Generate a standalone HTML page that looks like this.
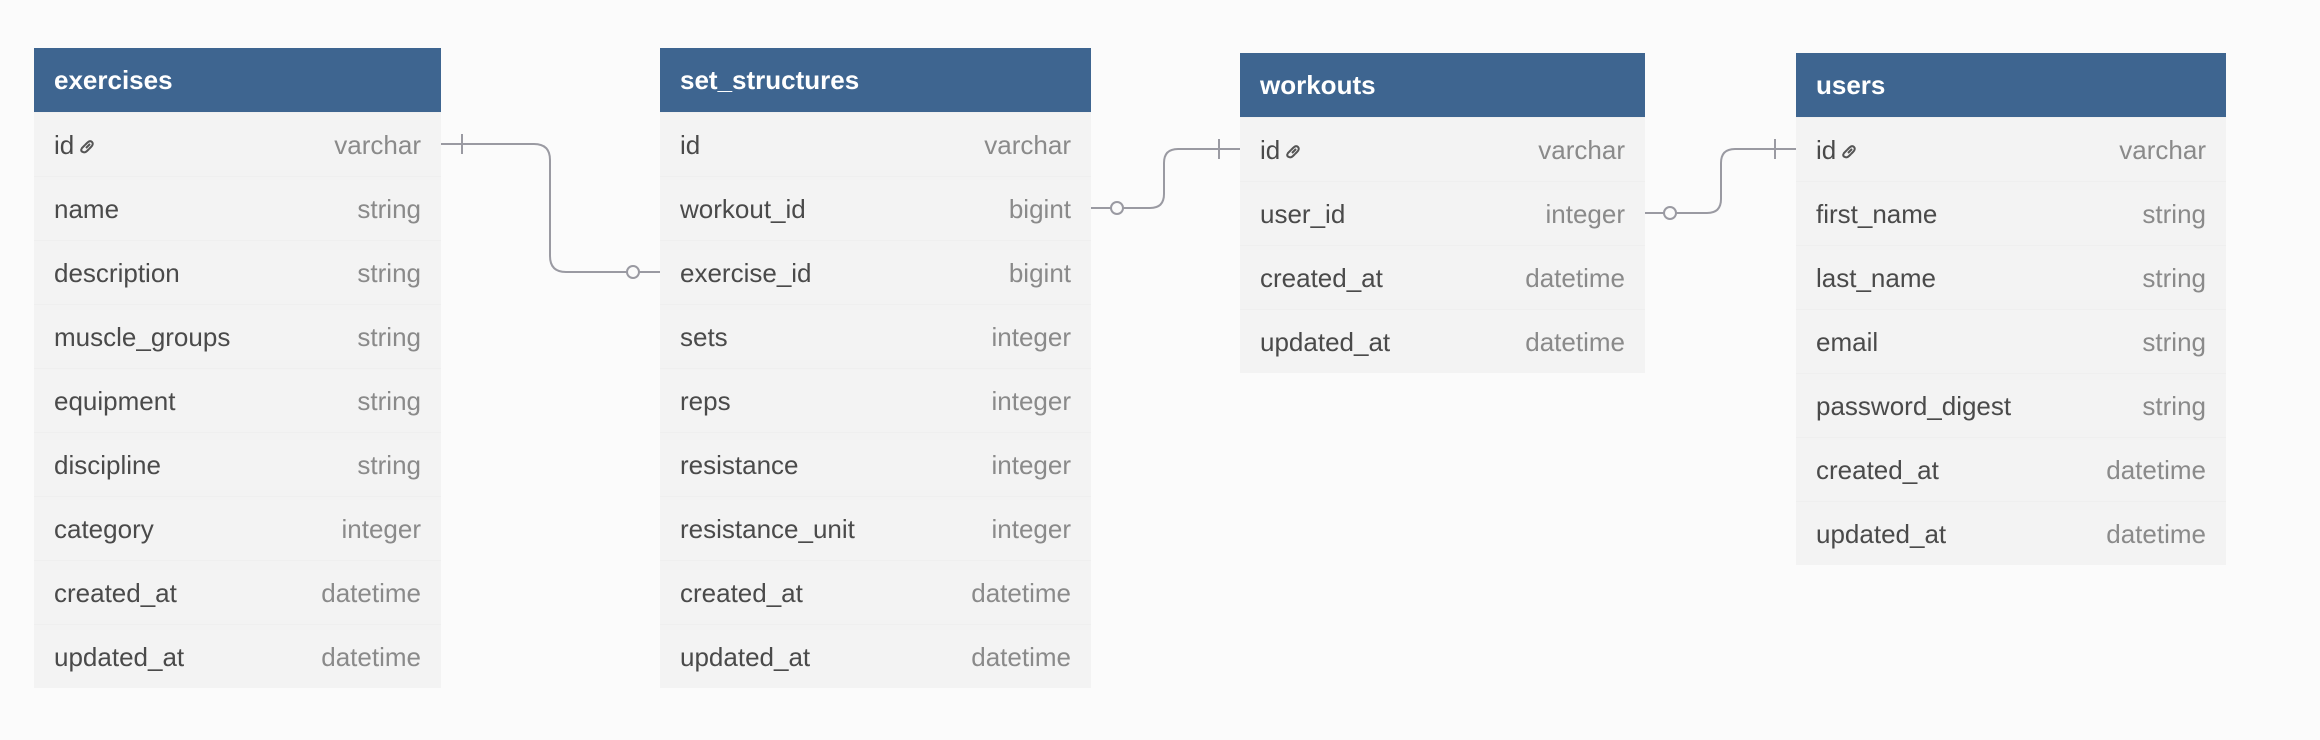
<!DOCTYPE html>
<html><head><style>
body{margin:0;width:2320px;height:740px;background:#fbfbfb;font-family:"Liberation Sans",sans-serif;position:relative;overflow:hidden}
.t{position:absolute;background:#f3f3f3}
.h{height:64px;background:#3e6590;color:#fff;font-weight:bold;font-size:26px;line-height:64px;padding-left:20px}
.r{height:64px;line-height:64px;font-size:26px;color:#4a4a4a;padding:0 20px;position:relative;box-sizing:border-box;border-top:1px solid #efefef}
.r span{position:absolute;right:20px;color:#8a8a8a}
.r svg{position:relative;top:2px;margin-left:4px}
svg.c{position:absolute;left:0;top:0}
</style></head><body>
<div class="t" style="left:34px;top:48px;width:407px">
<div class="h">exercises</div>
<div class="r">id<svg width="18" height="18" viewBox="0 0 18 18" fill="none" stroke="#555" stroke-width="2"><path d="M8 10 L12 6"/><path d="M7 7 L4 10 Q2 13 5 14 Q7 15 9 13 L11 11"/><path d="M7 7 L9 5 Q12 2 14 4 Q16 6 13 9 L11 11" transform="translate(0,0)"/></svg><span>varchar</span></div>
<div class="r">name<span>string</span></div>
<div class="r">description<span>string</span></div>
<div class="r">muscle_groups<span>string</span></div>
<div class="r">equipment<span>string</span></div>
<div class="r">discipline<span>string</span></div>
<div class="r">category<span>integer</span></div>
<div class="r">created_at<span>datetime</span></div>
<div class="r">updated_at<span>datetime</span></div>
</div>
<div class="t" style="left:660px;top:48px;width:431px">
<div class="h">set_structures</div>
<div class="r">id<span>varchar</span></div>
<div class="r">workout_id<span>bigint</span></div>
<div class="r">exercise_id<span>bigint</span></div>
<div class="r">sets<span>integer</span></div>
<div class="r">reps<span>integer</span></div>
<div class="r">resistance<span>integer</span></div>
<div class="r">resistance_unit<span>integer</span></div>
<div class="r">created_at<span>datetime</span></div>
<div class="r">updated_at<span>datetime</span></div>
</div>
<div class="t" style="left:1240px;top:53px;width:405px">
<div class="h">workouts</div>
<div class="r">id<svg width="18" height="18" viewBox="0 0 18 18" fill="none" stroke="#555" stroke-width="2"><path d="M8 10 L12 6"/><path d="M7 7 L4 10 Q2 13 5 14 Q7 15 9 13 L11 11"/><path d="M7 7 L9 5 Q12 2 14 4 Q16 6 13 9 L11 11"/></svg><span>varchar</span></div>
<div class="r">user_id<span>integer</span></div>
<div class="r">created_at<span>datetime</span></div>
<div class="r">updated_at<span>datetime</span></div>
</div>
<div class="t" style="left:1796px;top:53px;width:430px">
<div class="h">users</div>
<div class="r">id<svg width="18" height="18" viewBox="0 0 18 18" fill="none" stroke="#555" stroke-width="2"><path d="M8 10 L12 6"/><path d="M7 7 L4 10 Q2 13 5 14 Q7 15 9 13 L11 11"/><path d="M7 7 L9 5 Q12 2 14 4 Q16 6 13 9 L11 11"/></svg><span>varchar</span></div>
<div class="r">first_name<span>string</span></div>
<div class="r">last_name<span>string</span></div>
<div class="r">email<span>string</span></div>
<div class="r">password_digest<span>string</span></div>
<div class="r">created_at<span>datetime</span></div>
<div class="r">updated_at<span>datetime</span></div>
</div>
<svg class="c" width="2320" height="740" fill="none" stroke="#9a9aa2" stroke-width="2">
<path d="M441 144 H534 Q550 144 550 160 V256 Q550 272 566 272 H660"/>
<path d="M462 134 V154"/>
<circle cx="633" cy="272" r="6" fill="#fbfbfb"/>
<path d="M1091 208 H1150 Q1164 208 1164 194 V163 Q1164 149 1178 149 H1240"/>
<path d="M1219 139 V159"/>
<circle cx="1117" cy="208" r="6" fill="#fbfbfb"/>
<path d="M1645 213 H1707 Q1721 213 1721 199 V163 Q1721 149 1735 149 H1796"/>
<path d="M1775 139 V159"/>
<circle cx="1670" cy="213" r="6" fill="#fbfbfb"/>
</svg>
</body></html>
